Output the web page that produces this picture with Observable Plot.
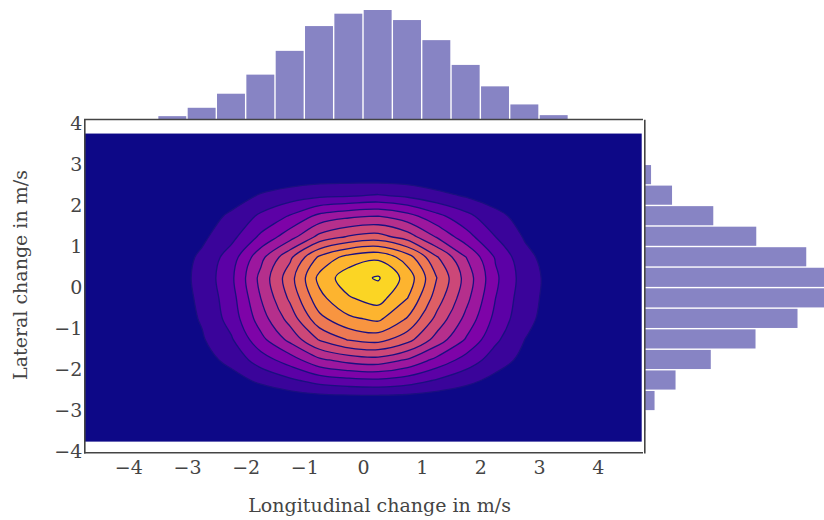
<!DOCTYPE html>
<html><head><meta charset="utf-8">
<script src="https://cdn.jsdelivr.net/npm/d3@7"></script>
<script src="https://cdn.jsdelivr.net/npm/@observablehq/plot@0.6"></script>
<style>
body{margin:0;background:#fff;}
#chart{position:relative;width:824px;height:520px;overflow:hidden;font-family:"DejaVu Serif",serif;color:#444;}
#chart svg{position:absolute;left:0;top:0;}
.lbl{position:absolute;white-space:nowrap;font-size:19px;line-height:1;color:#444;}
</style></head><body><div id="chart"></div>
<script>
// ---- data ----
const xTicks = [-4, -3, -2, -1, 0, 1, 2, 3, 4];
const yTicks = [-4, -3, -2, -1, 0, 1, 2, 3, 4];
// top marginal histogram (longitudinal)
const xBinEdges = [-3.5, -3, -2.5, -2, -1.5, -1, -0.5, 0, 0.5, 1, 1.5, 2, 2.5, 3, 3.5];
const xCounts = [17, 67, 151, 265, 407, 555, 629, 651, 591, 471, 323, 195, 87, 23];
// right marginal histogram (lateral), top to bottom
const yBinEdges = [3, 2.5, 2, 1.5, 1, 0.5, 0, -0.5, -1, -1.5, -2, -2.5, -3, -3.5];
const yCounts = [27, 111, 276, 448, 648, 760, 748, 613, 445, 266, 125, 41, 4];
// 2D histogram (bin centres) used for the density contour
const xCenters = [-4.75, -4.25, -3.75, -3.25, -2.75, -2.25, -1.75, -1.25, -0.75, -0.25, 0.25, 0.75, 1.25, 1.75, 2.25, 2.75, 3.25, 3.75, 4.25, 4.75];
const yCenters = [3.75, 3.25, 2.75, 2.25, 1.75, 1.25, 0.75, 0.25, -0.25, -0.75, -1.25, -1.75, -2.25, -2.75, -3.25, -3.75];
const density = [
  [0,0,0,0,0,0,0,0,0,0,0,0,0,0,0,0,0,0,0,0],
  [0,0,0,0,0,0,0,0,0,0,0,0,0,0,0,0,0,0,0,0],
  [0,0,0,0,0,1,2,3,4,4,3,3,2,1,1,0,0,0,0,0],
  [0,0,0,1,2,5,11,15,18,19,21,18,13,9,5,2,1,0,0,0],
  [0,0,0,2,5,12,22,31,43,48,50,44,33,23,13,6,3,1,0,0],
  [0,0,1,3,8,17,32,46,63,71,74,65,49,34,20,9,4,1,0,0],
  [0,0,1,4,12,25,47,68,92,104,108,95,71,50,29,13,5,1,0,0],
  [0,0,1,5,13,28,53,76,103,116,121,106,80,56,32,15,6,1,0,0],
  [0,0,1,5,12,26,50,72,97,109,114,100,75,53,30,14,6,1,0,0],
  [0,0,1,4,11,24,45,64,87,98,102,89,67,47,27,13,5,1,0,0],
  [0,0,1,3,9,19,37,53,71,81,84,74,56,39,22,10,4,1,0,0],
  [0,0,0,2,6,13,25,35,48,54,56,49,37,26,15,7,3,1,0,0],
  [0,0,0,1,3,6,12,18,24,27,28,25,19,13,7,3,1,0,0,0],
  [0,0,0,0,0,1,1,2,3,3,3,3,2,1,1,0,0,0,0,0],
  [0,0,0,0,0,0,0,0,0,0,0,0,0,0,0,0,0,0,0,0],
  [0,0,0,0,0,0,0,0,0,0,0,0,0,0,0,0,0,0,0,0]
];
const levels = [10, 20, 30, 40, 50, 60, 70, 80, 90, 100, 110, 120];
const xTitle = "Longitudinal change in m/s";
const yTitle = "Lateral change in m/s";

// ---- layout ----
const W = 824, H = 520;
const plotL = 84.3, plotR = 641.7, plotT = 120, plotB = 452.3;
const xDomain = [-4.75, 4.75];
const yDomain = [-4.01, 4.08];
const barColor = "#8784c4";
const axisColor = "#444";
const font = {fontFamily: "'DejaVu Serif', serif", fontSize: "19px", color: "#444", background: "transparent", overflow: "hidden"};

const chart = document.getElementById("chart");
const hx = (xCenters[1] - xCenters[0]) / 2;
const hy = (yCenters[0] - yCenters[1]) / 2;

// main density contour plot
const main = Plot.plot({
  width: W, height: H,
  marginLeft: plotL, marginRight: W - plotR, marginTop: plotT, marginBottom: H - plotB,
  style: font,
  x: {domain: xDomain, label: null},
  y: {domain: yDomain, label: null},
  color: {scheme: "plasma", domain: [0, d3.max(levels)]},
  marks: [
    Plot.rect([0], {x1: xCenters[0], x2: xCenters[xCenters.length - 1], y1: yCenters[yCenters.length - 1], y2: yCenters[0], fill: d3.interpolatePlasma(0)}),
    Plot.contour(density.flat(), {
      width: xCenters.length, height: yCenters.length,
      x1: xCenters[0] - hx, x2: xCenters[xCenters.length - 1] + hx,
      y1: yCenters[0] + hy, y2: yCenters[yCenters.length - 1] - hy,
      thresholds: levels, fill: Plot.identity,
      stroke: "#1a0f80", strokeWidth: 1.3
    }),
    Plot.axisX(xTicks, {tickSize: 0, tickPadding: 7.5, fill: axisColor}),
    Plot.axisY(yTicks, {tickSize: 0, tickPadding: 2.5, fill: axisColor}),
    Plot.frame({anchor: "left", stroke: axisColor, strokeWidth: 1.6}),
    Plot.frame({anchor: "bottom", stroke: axisColor, strokeWidth: 1.6})
  ]
});
// smooth the contour rings (rendering style only: same library-computed points)
try {
  const g = main.querySelector('g[aria-label="contour"]');
  if (g) {
    const line = d3.line().curve(d3.curveCatmullRomClosed.alpha(0.5));
    g.querySelectorAll("path").forEach(p => {
      const d = p.getAttribute("d");
      if (!d) return;
      const rings = d.split("M").filter(s => s.trim()).map(s =>
        s.replace(/Z/g, "").split("L").map(pt => pt.split(",").map(Number)));
      const out = rings.map(r => {
        if (r.length > 2 && r[0][0] === r[r.length - 1][0] && r[0][1] === r[r.length - 1][1]) r.pop();
        return r.length > 2 ? line(r) : "";
      }).join("");
      if (out && !out.includes("NaN")) p.setAttribute("d", out);
    });
  }
} catch (e) { console.warn(e); }
chart.appendChild(main);

// top marginal histogram
const topHist = Plot.plot({
  width: W, height: H,
  marginLeft: plotL, marginRight: W - plotR, marginTop: 10, marginBottom: H - 119,
  style: font,
  x: {domain: xDomain, axis: null},
  y: {domain: [0, d3.max(xCounts)], axis: null},
  marks: [
    Plot.rectY(xCounts, {x1: (d, i) => xBinEdges[i], x2: (d, i) => xBinEdges[i + 1], y1: 0, y2: d => d, fill: barColor, insetLeft: 0.7, insetRight: 0.7}),
    Plot.frame({anchor: "bottom", stroke: axisColor, strokeWidth: 1.6})
  ]
});
chart.appendChild(topHist);

// right marginal histogram
const rightHist = Plot.plot({
  width: W, height: H,
  marginLeft: 644.3, marginRight: 0, marginTop: plotT, marginBottom: H - plotB,
  style: font,
  x: {domain: [0, 719], axis: null},
  y: {domain: yDomain, axis: null},
  marks: [
    Plot.rectX(yCounts, {y1: (d, i) => yBinEdges[i], y2: (d, i) => yBinEdges[i + 1], x1: 0, x2: d => d, fill: barColor, insetTop: 0.7, insetBottom: 0.7}),
    Plot.frame({anchor: "left", stroke: axisColor, strokeWidth: 1.6})
  ]
});
chart.appendChild(rightHist);

// axis titles
const xl = document.createElement("div");
xl.className = "lbl"; xl.textContent = xTitle;
xl.style.left = "379.6px"; xl.style.top = "505px"; xl.style.transform = "translate(-50%,-50%)";
chart.appendChild(xl);
const yl = document.createElement("div");
yl.className = "lbl"; yl.textContent = yTitle;
yl.style.left = "20px"; yl.style.top = "275px"; yl.style.transform = "translate(-50%,-50%) rotate(-90deg)";
chart.appendChild(yl);
</script></body></html>
